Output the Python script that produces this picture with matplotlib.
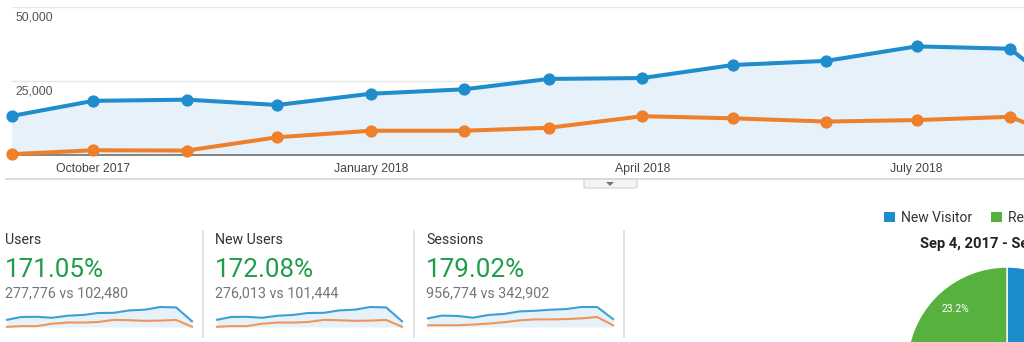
import matplotlib
matplotlib.use('Agg')
import matplotlib.pyplot as plt
import matplotlib.dates as mdates
import pandas as pd
from matplotlib.lines import Line2D
from matplotlib.patches import FancyBboxPatch, Polygon, Rectangle
from matplotlib.transforms import offset_copy, blended_transform_factory

# monthly points, Sep 4 2017 .. Sep 2018 (last month is partial)
dates = pd.to_datetime(['2017-09-04', '2017-10-01', '2017-11-01', '2017-12-01',
                        '2018-01-01', '2018-02-01', '2018-03-01', '2018-04-01',
                        '2018-05-01', '2018-06-01', '2018-07-01', '2018-08-01',
                        '2018-09-01'])
users_cur = [13200, 18300, 18700, 16900, 20700, 22200, 25700, 26000,
             30400, 31800, 36700, 35900, 10500]
users_prev = [300, 1600, 1500, 6000, 8200, 8200, 9200, 13100,
              12400, 11300, 11800, 12900, 400]
sessions_cur = [50000, 66000, 64000, 54000, 70000, 76000, 90000, 94000,
                100000, 104000, 116000, 116000, 46000]
sessions_prev = [10000, 10000, 10000, 14000, 20000, 28000, 38000, 44000,
                 44000, 46000, 50000, 58000, 10000]

y_ticks = [25000, 50000]
x_ticks = pd.to_datetime(['2017-10-01', '2018-01-01', '2018-04-01', '2018-07-01'])

card_names = ['Users', 'New Users', 'Sessions']
card_cur = [277776, 276013, 956774]
card_prev = [102480, 101444, 342902]

visitor_labels = ['New Visitor', 'Returning Visitor']
visitor_share = [76.8, 23.2]
pie_title = 'Sep 4, 2017 - Sep 3, 2018'

BLUE = '#1f8dcc'
ORANGE = '#ef7f2a'
FILL = '#e7f1f9'
GREEN_TXT = '#1e9e48'
PIE_BLUE = '#1c8ccb'
PIE_GREEN = '#57b13f'

W, H = 1024, 342
fig = plt.figure(figsize=(W / 100, H / 100), dpi=100)


def box(x0, y0, x1, y1):
    # pixel box with top-left origin -> figure rect
    return [x0 / W, 1 - y1 / H, (x1 - x0) / W, (y1 - y0) / H]


def fx(x):
    return x / W


def fy(y):
    return 1 - y / H


# ---- main line chart ----
ax = fig.add_axes(box(12, 7, 1024, 155))
ax.fill_between(dates, users_cur, 0, color=FILL, lw=0, zorder=1)
ax.plot(dates, users_cur, color=BLUE, lw=2.9, marker='o', ms=7.8,
        clip_on=False, zorder=5)
ax.plot(dates, users_prev, color=ORANGE, lw=2.9, marker='o', ms=7.8,
        clip_on=False, zorder=4)
ax.set_xlim(dates[0], dates[0] + pd.Timedelta(days=335.6))
ax.set_ylim(0, 50000)
ax.set_yticks(y_ticks)
ax.yaxis.grid(True, color='#e6e6e6', lw=1)
ax.set_axisbelow(True)
ax.tick_params(axis='y', length=0, labelleft=False)
for s in ['top', 'left', 'right']:
    ax.spines[s].set_visible(False)
ax.spines['bottom'].set_color('#6f6f6f')
ax.spines['bottom'].set_linewidth(1.2)
ax.spines['bottom'].set_zorder(3)

ylab_tr = offset_copy(blended_transform_factory(ax.transAxes, ax.transData),
                      fig=fig, x=3, y=-4, units='dots')
for v in y_ticks:
    ax.text(0, v, f'{v:,}', transform=ylab_tr, ha='left', va='top',
            fontsize=8.8, color='#555555', family='Liberation Sans')

ax.set_xticks(x_ticks)
ax.xaxis.set_major_formatter(mdates.DateFormatter('%B %Y'))
ax.tick_params(axis='x', length=0, pad=6, labelsize=8.8, labelcolor='#444444')
for lab in ax.get_xticklabels():
    lab.set_family('Liberation Sans')

# divider under the chart with the little collapse tab
fig.add_artist(Line2D([fx(6), fx(1024)], [fy(179), fy(179)], color='#d9d9d9', lw=1.3))
fig.add_artist(FancyBboxPatch((fx(584), fy(188)), (637 - 584) / W, 9 / H,
                              boxstyle='round,pad=0,rounding_size=0.003',
                              transform=fig.transFigure, fc='#f4f4f4',
                              ec='#cfcfcf', lw=0.8))
fig.add_artist(Polygon([(fx(606), fy(182)), (fx(614), fy(182)), (fx(610), fy(186))],
                       closed=True, transform=fig.transFigure, fc='#777777', ec='none'))

# ---- scorecards ----
card_x = [5, 215, 426]
spark_x = [7, 217, 428]
spark_data = [(users_cur, users_prev), (users_cur, users_prev),
              (sessions_cur, sessions_prev)]
for i, name in enumerate(card_names):
    x0 = card_x[i]
    pct = (card_cur[i] - card_prev[i]) / card_prev[i] * 100
    fig.text(fx(x0), fy(244), name, fontsize=10.2, color='#333333',
             family='Roboto', va='baseline')
    fig.text(fx(x0), fy(277), f'{pct:.2f}%', fontsize=18.7, color=GREEN_TXT,
             family='Roboto', va='baseline')
    fig.text(fx(x0), fy(297), f'{card_cur[i]:,} vs {card_prev[i]:,}',
             fontsize=10.3, color='#757575', family='Roboto', va='baseline')

    cur, prev = spark_data[i]
    sx = fig.add_axes(box(spark_x[i], 305, spark_x[i] + 185, 327))
    sx.fill_between(dates, cur, 0, color=FILL, lw=0)
    sx.plot(dates, cur, color='#3e9fd6', lw=1.5, clip_on=False)
    sx.plot(dates, prev, color='#f0955a', lw=1.5, clip_on=False)
    sx.set_xlim(dates[0], dates[-1])
    sx.set_ylim(0, max(cur) * 1.1)
    sx.axis('off')

for x in [203, 414, 624]:
    fig.add_artist(Line2D([fx(x), fx(x)], [fy(231), fy(337)], color='#dddddd', lw=1.2))

# ---- visitor type pie ----
pax = fig.add_axes(box(907, 267, 1107, 467))
pax.pie(visitor_share, colors=[PIE_BLUE, PIE_GREEN], startangle=90,
        counterclock=False, autopct='%.1f%%', pctdistance=0.78,
        wedgeprops=dict(edgecolor='white', linewidth=1),
        textprops=dict(color='white', fontsize=7.5, family='Roboto'))
pax.set_xlim(-1, 1)
pax.set_ylim(-1, 1)

fig.text(fx(920), fy(248), pie_title, fontsize=10.6, fontweight='bold',
         color='#222222', family='Roboto', va='baseline')

leg_x = [884, 991]
for lx, lab, col in zip(leg_x, visitor_labels, [PIE_BLUE, PIE_GREEN]):
    fig.add_artist(Rectangle((fx(lx), fy(222)), 11 / W, 10 / H,
                             transform=fig.transFigure, fc=col, ec='none'))
    fig.text(fx(lx + 17), fy(222), lab, fontsize=10, color='#333333',
             family='Roboto', va='baseline')

fig.savefig('out.png', dpi=100)
